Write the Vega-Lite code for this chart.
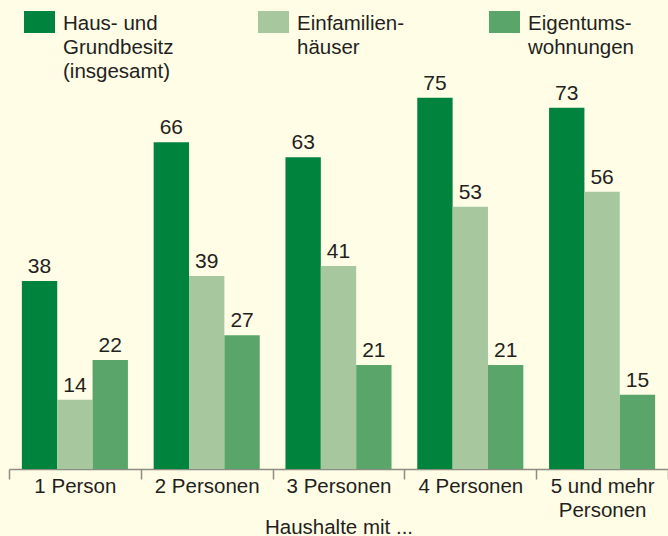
{
  "$schema": "https://vega.github.io/schema/vega-lite/v6.json",
  "width": 659,
  "height": 396,
  "autosize": {"type": "none"},
  "padding": {"left": 9, "top": 73, "right": 0, "bottom": 67},
  "background": "#fffde6",
  "config": {
    "view": {"stroke": null},
    "font": "Liberation Sans",
    "style": {"guide-label": {"lineHeight": 24}}
  },
  "data": {
    "values": [
      {"Haushalte": "1 Person", "Art": "Haus- und Grundbesitz (insgesamt)", "Anteil": 38},
      {"Haushalte": "1 Person", "Art": "Einfamilienhäuser", "Anteil": 14},
      {"Haushalte": "1 Person", "Art": "Eigentumswohnungen", "Anteil": 22},
      {"Haushalte": "2 Personen", "Art": "Haus- und Grundbesitz (insgesamt)", "Anteil": 66},
      {"Haushalte": "2 Personen", "Art": "Einfamilienhäuser", "Anteil": 39},
      {"Haushalte": "2 Personen", "Art": "Eigentumswohnungen", "Anteil": 27},
      {"Haushalte": "3 Personen", "Art": "Haus- und Grundbesitz (insgesamt)", "Anteil": 63},
      {"Haushalte": "3 Personen", "Art": "Einfamilienhäuser", "Anteil": 41},
      {"Haushalte": "3 Personen", "Art": "Eigentumswohnungen", "Anteil": 21},
      {"Haushalte": "4 Personen", "Art": "Haus- und Grundbesitz (insgesamt)", "Anteil": 75},
      {"Haushalte": "4 Personen", "Art": "Einfamilienhäuser", "Anteil": 53},
      {"Haushalte": "4 Personen", "Art": "Eigentumswohnungen", "Anteil": 21},
      {"Haushalte": "5 und mehr Personen", "Art": "Haus- und Grundbesitz (insgesamt)", "Anteil": 73},
      {"Haushalte": "5 und mehr Personen", "Art": "Einfamilienhäuser", "Anteil": 56},
      {"Haushalte": "5 und mehr Personen", "Art": "Eigentumswohnungen", "Anteil": 15}
    ]
  },
  "encoding": {
    "x": {
      "field": "Haushalte",
      "type": "nominal",
      "sort": null,
      "scale": {"paddingInner": 0, "paddingOuter": 0},
      "axis": {
        "title": "Haushalte mit ...",
        "labelAngle": 0,
        "labelFontSize": 20.5,
        "labelColor": "#231f20",
        "labelLineHeight": 24,
        "labelPadding": -3,
        "labelOverlap": false,
        "labelExpr": "datum.label == '5 und mehr Personen' ? ['5 und mehr', 'Personen'] : datum.label",
        "tickSize": 10,
        "tickColor": "#8c8c84",
        "tickWidth": 1.5,
        "tickBand": "extent",
        "domainColor": "#8c8c84",
        "domainWidth": 1.5,
        "titleFontSize": 20.5,
        "titleFontWeight": "normal",
        "titleColor": "#231f20",
        "titleBaseline": "alphabetic",
        "titleY": 64
      }
    },
    "xOffset": {
      "field": "Art",
      "type": "nominal",
      "sort": ["Haus- und Grundbesitz (insgesamt)", "Einfamilienhäuser", "Eigentumswohnungen"],
      "scale": {"paddingInner": 0, "paddingOuter": 0.364}
    },
    "y": {
      "field": "Anteil",
      "type": "quantitative",
      "scale": {"domain": [0, 80]},
      "axis": null
    }
  },
  "layer": [
    {
      "mark": {"type": "bar"},
      "encoding": {
        "color": {
          "field": "Art",
          "type": "nominal",
          "sort": ["Haus- und Grundbesitz (insgesamt)", "Einfamilienhäuser", "Eigentumswohnungen"],
          "scale": {
            "domain": ["Haus- und Grundbesitz (insgesamt)", "Einfamilienhäuser", "Eigentumswohnungen"],
            "range": ["#00833d", "#a7c89e", "#5aa66a"]
          },
          "legend": {
            "orient": "none",
            "legendX": 15,
            "legendY": -58.5,
            "direction": "horizontal",
            "columns": 3,
            "columnPadding": 84,
            "padding": 0,
            "title": null,
            "symbolType": "M-1,-1.226H1V0.194H-1Z",
            "symbolSize": 961,
            "symbolStrokeWidth": 0,
            "symbolOpacity": 1,
            "labelFontSize": 20.5,
            "labelColor": "#231f20",
            "labelOffset": 8,
            "labelBaseline": "alphabetic",
            "labelLimit": 220,
            "labelExpr": "datum.label == 'Haus- und Grundbesitz (insgesamt)' ? ['Haus- und', 'Grundbesitz', '(insgesamt)'] : datum.label == 'Einfamilienhäuser' ? ['Einfamilien-', 'häuser', ' '] : ['Eigentums-', 'wohnungen', ' ']"
          }
        }
      }
    },
    {
      "mark": {"type": "text", "dy": -8, "baseline": "alphabetic", "fontSize": 21, "color": "#231f20"},
      "encoding": {"text": {"field": "Anteil", "type": "quantitative"}}
    }
  ]
}
